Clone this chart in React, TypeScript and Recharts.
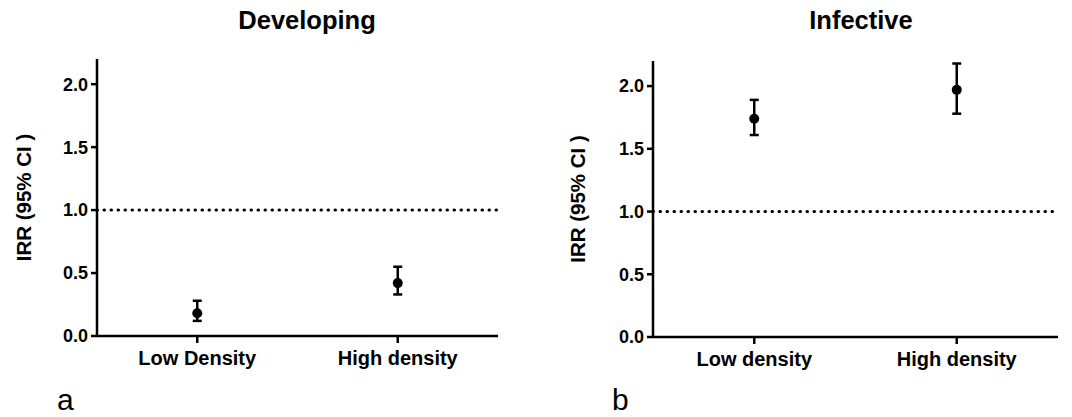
import React from 'react';
import { ComposedChart, Scatter, ErrorBar, XAxis, YAxis, ReferenceLine } from 'recharts';

// panel a: developing
const groupsA = ['Low Density', 'High density'];
const irrA = [0.18, 0.42];
const lowerA = [0.12, 0.33];
const upperA = [0.28, 0.55];

// panel b: infective
const groupsB = ['Low density', 'High density'];
const irrB = [1.74, 1.97];
const lowerB = [1.61, 1.78];
const upperB = [1.89, 2.18];

const yTicks = [0, 0.5, 1, 1.5, 2];

const FONT = '"Liberation Sans", Arial, Helvetica, sans-serif';

const buildData = (groups: string[], irr: number[], lower: number[], upper: number[]) =>
  groups.map((group, i) => ({
    group,
    irr: irr[i],
    err: [irr[i] - lower[i], upper[i] - irr[i]],
  }));

const Dot = (props: any) => {
  const { cx, cy } = props;
  if (cx == null || cy == null) return null;
  return <circle cx={cx} cy={cy} r={5} fill="#000" />;
};

interface PanelProps {
  data: { group: string; irr: number; err: number[] }[];
  width: number;
  margin: { top: number; right: number; bottom: number; left: number };
  labelOffset: number;
}

const Panel: React.FC<PanelProps> = ({ data, width, margin, labelOffset }) => (
  <ComposedChart width={width} height={417} data={data} margin={margin}>
    <XAxis
      dataKey="group"
      type="category"
      scale="band"
      height={50}
      axisLine={{ stroke: '#000', strokeWidth: 2.5 }}
      tickLine={{ stroke: '#000', strokeWidth: 2.5 }}
      tickSize={7}
      tickMargin={8}
      tick={{ fill: '#000', fontSize: 20, fontWeight: 'bold', fontFamily: FONT }}
    />
    <YAxis
      type="number"
      domain={[0, 2.2]}
      ticks={yTicks}
      width={97}
      allowDataOverflow
      axisLine={{ stroke: '#000', strokeWidth: 2.5 }}
      tickLine={{ stroke: '#000', strokeWidth: 2.5 }}
      tickSize={6}
      tickMargin={3}
      tickFormatter={(v: number) => v.toFixed(1)}
      tick={{ fill: '#000', fontSize: 18, fontWeight: 'bold', fontFamily: FONT }}
      label={{
        value: 'IRR (95% CI )',
        angle: -90,
        position: 'insideLeft',
        offset: labelOffset,
        style: { textAnchor: 'middle', fill: '#000', fontSize: 20.5, fontWeight: 'bold', fontFamily: FONT },
      }}
    />
    <ReferenceLine y={1} stroke="#000" strokeWidth={3} strokeLinecap="round" strokeDasharray="0.5 6.5" />
    <Scatter dataKey="irr" fill="#000" shape={<Dot />} isAnimationActive={false}>
      <ErrorBar dataKey="err" direction="y" width={4.5} strokeWidth={2.5} stroke="#000" isAnimationActive={false} />
    </Scatter>
  </ComposedChart>
);

const App: React.FC = () => {
  const dataA = buildData(groupsA, irrA, lowerA, upperA);
  const dataB = buildData(groupsB, irrB, lowerB, upperB);

  return (
    <div style={{ position: 'absolute', left: 0, top: 0, width: 1072, height: 417, background: '#fff' }}>
      <div style={{ position: 'absolute', left: 0, top: 0 }}>
        <Panel data={dataA} width={540} margin={{ top: 59, right: 42, bottom: 31, left: 0 }} labelOffset={23.5} />
      </div>
      <div style={{ position: 'absolute', left: 540, top: 0 }}>
        <Panel data={dataB} width={532} margin={{ top: 61, right: 14, bottom: 30, left: 16 }} labelOffset={22} />
      </div>
      <svg width={1072} height={417} style={{ position: 'absolute', left: 0, top: 0, pointerEvents: 'none' }}>
        <text x={307} y={29} textAnchor="middle" fontSize={25.5} fontWeight="bold" fontFamily={FONT} fill="#000">
          Developing
        </text>
        <text x={861} y={29} textAnchor="middle" fontSize={25.5} fontWeight="bold" fontFamily={FONT} fill="#000">
          Infective
        </text>
        <text x={57} y={410} fontSize={30} fontFamily={FONT} fill="#000">
          a
        </text>
        <text x={612} y={410} fontSize={30} fontFamily={FONT} fill="#000">
          b
        </text>
      </svg>
    </div>
  );
};

export default App;
